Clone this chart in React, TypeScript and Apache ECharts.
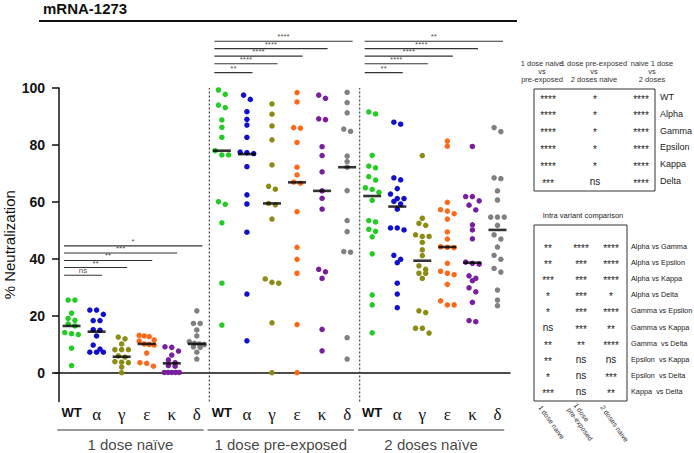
import React, { useEffect, useRef } from "react";
import * as echarts from "echarts";

// ---------- data ----------
const variants = ["WT", "α", "γ", "ε", "κ", "δ"];
const groupNames = ["1 dose naïve", "1 dose pre-exposed", "2 doses naïve"];
const variantColors = ["#22cc22", "#1010cc", "#8c8c14", "#ff6a1a", "#7a1ea0", "#808080"];

// 1 dose naive
const naiveWT = [25.6, 25.6, 21.0, 19.2, 18.5, 17.2, 16.5, 14.2, 13.8, 13.5, 8.7, 2.6];
const naiveAlpha = [22.1, 22.1, 20.6, 18.4, 18.4, 15.2, 15.0, 13.0, 9.8, 8.4, 7.3, 7.3, 7.3];
const naiveGamma = [12.6, 12.0, 10.2, 8.2, 8.2, 8.2, 6.0, 5.6, 4.0, 3.8, 3.6, 2.1, 0.1];
const naiveEpsilon = [13.2, 13.0, 12.8, 11.6, 11.2, 10.2, 10.0, 9.8, 7.0, 3.6, 3.4, 2.4];
const naiveKappa = [9.2, 9.0, 7.7, 6.3, 4.6, 3.6, 2.6, 2.4, 0.2, 0.2, 0.2, 0.2, 0.2];
const naiveDelta = [21.8, 17.4, 17.4, 15.1, 13.0, 11.0, 10.4, 10.2, 10.0, 9.2, 9.0, 7.3, 4.9];
const naiveMedians = [16.5, 14.5, 5.7, 10.2, 3.4, 10.2];

// 1 dose pre-exposed
const preWT = [99.3, 97.8, 94.0, 93.1, 88.8, 86.2, 82.7, 78.0, 76.5, 76.5, 60.1, 59.2, 52.7, 31.5, 16.8];
const preAlpha = [97.5, 96.0, 91.7, 89.0, 87.0, 82.7, 77.5, 77.3, 77.0, 72.4, 62.5, 59.3, 49.4, 27.7, 11.3];
const preGamma = [94.4, 90.8, 86.7, 81.8, 73.0, 65.5, 64.5, 59.5, 59.0, 54.0, 33.0, 31.8, 31.5, 17.6, 0.1];
const preEpsilon = [98.4, 95.1, 86.1, 85.9, 80.9, 72.2, 69.5, 67.0, 66.6, 56.6, 44.1, 39.9, 35.0, 17.0, 0.1];
const preKappa = [97.5, 96.4, 89.2, 88.9, 79.4, 76.3, 70.6, 63.9, 61.3, 57.5, 36.4, 35.5, 33.2, 15.3, 7.8];
const preDelta = [98.5, 94.9, 91.3, 85.6, 84.8, 76.1, 74.2, 72.2, 64.0, 53.5, 49.6, 42.6, 42.4, 12.4, 4.9];
const preMedians = [78.0, 76.8, 59.5, 66.9, 63.9, 72.2];

// 2 doses naive
const twoWT = [91.6, 90.9, 76.4, 72.6, 72.0, 68.9, 67.7, 65.0, 64.4, 63.4, 60.6, 53.5, 53.0, 50.4, 49.7, 47.8, 41.8, 27.4, 23.9, 14.1];
const twoAlpha = [88.0, 87.3, 68.5, 67.8, 64.7, 62.8, 61.2, 61.2, 60.2, 59.3, 57.5, 50.9, 50.9, 50.2, 41.3, 39.9, 38.7, 31.5, 27.7, 22.9];
const twoGamma = [76.3, 54.3, 52.5, 51.8, 48.5, 47.9, 47.9, 45.8, 43.2, 41.2, 37.6, 36.4, 35.0, 35.0, 33.2, 21.8, 21.2, 15.7, 15.7, 14.0];
const twoEpsilon = [81.4, 79.6, 59.9, 57.3, 56.8, 55.9, 54.0, 49.5, 47.0, 44.3, 44.1, 44.0, 38.5, 35.7, 35.0, 34.5, 31.1, 25.3, 23.9, 23.9];
const twoKappa = [79.5, 61.9, 61.9, 60.4, 58.9, 57.2, 52.0, 50.2, 47.1, 38.9, 38.5, 38.2, 34.1, 33.2, 32.4, 29.9, 28.5, 24.8, 18.4, 18.0];
const twoDelta = [86.1, 84.7, 68.5, 68.2, 63.9, 60.7, 54.7, 54.7, 54.7, 51.8, 48.5, 47.0, 44.2, 41.3, 39.9, 36.7, 35.4, 29.1, 25.6, 23.6];
const twoMedians = [62.1, 58.4, 39.4, 44.2, 38.7, 50.2];

const groupData = [
  [naiveWT, naiveAlpha, naiveGamma, naiveEpsilon, naiveKappa, naiveDelta],
  [preWT, preAlpha, preGamma, preEpsilon, preKappa, preDelta],
  [twoWT, twoAlpha, twoGamma, twoEpsilon, twoKappa, twoDelta],
];
const groupMedians = [naiveMedians, preMedians, twoMedians];

// significance brackets (WT vs each variant)
const sigNaive = ["ns", "**", "**", "***", "*"];
const sigPre = ["**", "****", "****", "****", "****"];
const sigTwo = ["**", "****", "****", "****", "**"];
const sigHeightsNaive = [34.3, 37.0, 39.5, 42.1, 44.6];
const sigHeightsHigh = [105.4, 108.5, 111.2, 113.8, 116.4];

const yTicks = [0, 20, 40, 60, 80, 100];

// tables
const table1Headers = ["1 dose naive\nvs\npre-exposed", "1 dose pre-exposed\nvs\n2 doses naive", "naive 1 dose\nvs\n2 doses"];
const table1Rows = ["WT", "Alpha", "Gamma", "Epsilon", "Kappa", "Delta"];
const table1Col1 = ["****", "****", "****", "****", "****", "***"];
const table1Col2 = ["*", "*", "*", "*", "*", "ns"];
const table1Col3 = ["****", "****", "****", "****", "****", "****"];

const table2Title = "Intra variant comparison";
const table2Rows = [
  "Alpha vs Gamma", "Alpha vs Epsilon", "Alpha vs Kappa", "Alpha vs Delta", "Gamma vs Epsilon",
  "Gamma vs Kappa", "Gamma  vs Delta", "Epsilon  vs Kappa", "Epsilon  vs Delta", "Kappa  vs Delta",
];
const table2Col1 = ["**", "**", "***", "*", "*", "ns", "**", "**", "*", "***"];
const table2Col2 = ["****", "***", "***", "***", "***", "***", "**", "ns", "ns", "ns"];
const table2Col3 = ["****", "****", "****", "*", "****", "**", "****", "ns", "***", "**"];
const table2Footers = ["1 dose naive", "1 dose\npre-exposed", "2 doses naive"];

// ---------- helpers ----------
function swarm(vals: number[], center: number) {
  const sorted = [...vals].sort((a, b) => b - a);
  const out: number[][] = [];
  let i = 0;
  while (i < sorted.length) {
    let j = i;
    while (j + 1 < sorted.length && sorted[i] - sorted[j + 1] < 1.7) j++;
    const n = j - i + 1;
    const step = n > 3 ? 0.6 / (n - 1) : 0.27;
    for (let k = 0; k < n; k++) out.push([center + (k - (n - 1) / 2) * step, sorted[i + k]]);
    i = j + 1;
  }
  return out;
}

const FONT = "Liberation Sans, Arial, sans-serif";

export default function App() {
  const ref = useRef<HTMLDivElement>(null);
  useEffect(() => {
    const chart = echarts.init(ref.current!, null, { renderer: "svg" });
    const series: any[] = [];

    // dots + medians
    groupData.forEach((grp, g) => {
      grp.forEach((vals, v) => {
        const center = g * 6 + v + 0.5;
        series.push({
          type: "scatter",
          data: swarm(vals, center),
          symbolSize: 5.5,
          itemStyle: { color: variantColors[v], opacity: 1 },
          silent: true,
          z: 3,
        });
      });
      series.push({
        type: "scatter",
        data: groupMedians[g].map((m, v) => [g * 6 + v + 0.5, m]),
        symbol: "rect",
        symbolSize: [18, 2.6],
        itemStyle: { color: "#000" },
        silent: true,
        z: 4,
      });
    });

    // dotted separators
    [6, 12].forEach((x) => {
      series.push({
        type: "line",
        data: [[x, -10], [x, 100]],
        symbol: "none",
        lineStyle: { color: "#444", width: 1.2, type: [2, 2] },
        silent: true,
        z: 1,
      });
    });

    // significance brackets
    const sigs = [sigNaive, sigPre, sigTwo];
    sigs.forEach((labels, g) => {
      const heights = g === 0 ? sigHeightsNaive : sigHeightsHigh;
      labels.forEach((lab, k) => {
        const x1 = g * 6 + 0.5 - 0.3;
        const x2 = g * 6 + k + 1 + 0.5 + 0.22;
        const h = heights[k];
        series.push({
          type: "line",
          data: [[x1, h], [x2, h]],
          symbol: "none",
          clip: false,
          lineStyle: { color: "#333", width: 1.1 },
          silent: true,
        });
        series.push({
          type: "scatter",
          data: [[(x1 + x2) / 2, h, lab]],
          symbolSize: 1,
          clip: false,
          itemStyle: { color: "rgba(0,0,0,0)" },
          label: {
            show: true,
            position: "top",
            distance: 0,
            formatter: (p: any) => p.data[2],
            fontSize: 8,
            fontFamily: FONT,
            color: "#222",
          },
          silent: true,
        });
      });
    });

    // group underlines + names
    groupNames.forEach((name, g) => {
      const c = g * 6 + 2.85;
      series.push({
        type: "line",
        data: [[c - 2.92, -20], [c + 2.92, -20]],
        symbol: "none",
        clip: false,
        lineStyle: { color: "#333", width: 1 },
        silent: true,
      });
      series.push({
        type: "scatter",
        data: [[c, -25, name]],
        symbolSize: 1,
        clip: false,
        itemStyle: { color: "rgba(0,0,0,0)" },
        label: {
          show: true,
          position: "inside",
          formatter: (p: any) => p.data[2],
          fontSize: 15,
          fontFamily: FONT,
          color: "#111",
        },
        silent: true,
      });
    });

    // title + tables via graphic
    const graphic: any[] = [];
    graphic.push({
      type: "text",
      left: 43,
      top: 1,
      style: { text: "mRNA-1273", fontSize: 15, fontWeight: "bold", fontFamily: FONT, fill: "#111" },
    });
    graphic.push({
      type: "line",
      shape: { x1: 39, y1: 21, x2: 517, y2: 21 },
      style: { stroke: "#111", lineWidth: 2 },
    });
    const t1x = [542, 594, 652];
    table1Headers.forEach((h, i) => {
      graphic.push({
        type: "text",
        x: t1x[i],
        y: 60,
        style: { text: h, fontSize: 7.5, lineHeight: 7.8, fontFamily: FONT, fill: "#333", align: "center", verticalAlign: "top" },
      });
    });
    graphic.push({
      type: "rect",
      shape: { x: 534, y: 89, width: 121, height: 102 },
      style: { fill: "none", stroke: "#333", lineWidth: 1 },
    });
    const t1cx = [548, 595, 641];
    const t1cols = [table1Col1, table1Col2, table1Col3];
    table1Rows.forEach((r, i) => {
      const y = 97 + i * 16.8;
      t1cols.forEach((col, c) => {
        const isNs = col[i] === "ns";
        graphic.push({
          type: "text",
          x: t1cx[c],
          y: isNs ? y : y + 2,
          style: { text: col[i], fontSize: 10, fontFamily: FONT, fill: "#222", align: "center", verticalAlign: "middle" },
        });
      });
      graphic.push({
        type: "text",
        x: 660,
        y,
        style: { text: r, fontSize: 9, fontFamily: FONT, fill: "#222", align: "left", verticalAlign: "middle" },
      });
    });

    graphic.push({
      type: "text",
      x: 583,
      y: 215,
      style: { text: table2Title, fontSize: 7.5, fontFamily: FONT, fill: "#222", align: "center", verticalAlign: "middle" },
    });
    graphic.push({
      type: "rect",
      shape: { x: 534, y: 225, width: 93, height: 176 },
      style: { fill: "none", stroke: "#333", lineWidth: 1 },
    });
    const t2cx = [548, 581, 611];
    const t2cols = [table2Col1, table2Col2, table2Col3];
    table2Rows.forEach((r, i) => {
      const y = 246 + i * 16.2;
      t2cols.forEach((col, c) => {
        const isNs = col[i] === "ns";
        graphic.push({
          type: "text",
          x: t2cx[c],
          y: isNs ? y : y + 2,
          style: { text: col[i], fontSize: 10, fontFamily: FONT, fill: "#222", align: "center", verticalAlign: "middle" },
        });
      });
      graphic.push({
        type: "text",
        x: 631,
        y,
        style: { text: r, fontSize: 7.3, fontFamily: FONT, fill: "#222", align: "left", verticalAlign: "middle" },
      });
    });
    const footX = [540, 572, 602];
    table2Footers.forEach((f, i) => {
      graphic.push({
        type: "text",
        x: footX[i],
        y: 406,
        rotation: -0.95,
        style: { text: f, fontSize: 7, lineHeight: 8, fontFamily: FONT, fill: "#333", align: "left", verticalAlign: "middle" },
      });
    });

    chart.setOption({
      animation: false,
      grid: { left: 55, top: 88, width: 455, height: 313.5, containLabel: false, outerBoundsMode: "none" },
      xAxis: {
        type: "value",
        min: -0.16,
        max: 18,
        splitLine: { show: false },
        axisTick: { show: false },
        axisLine: { show: true, lineStyle: { color: "#111", width: 1.5 } },
        axisLabel: {
          customValues: Array.from({ length: 18 }, (_, i) => i + 0.5),
          margin: 4,
          formatter: (val: number) => {
            const i = Math.round(val - 0.5) % 6;
            return i === 0 ? "{b|WT}" : "{g|" + variants[i] + "}";
          },
          rich: {
            b: { fontSize: 13, fontWeight: "bold", fontFamily: FONT, color: "#111" },
            g: { fontSize: 17, fontFamily: "Liberation Serif, DejaVu Serif, serif", color: "#111" },
          },
        },
      },
      yAxis: {
        type: "value",
        min: -10,
        max: 100,
        name: "% Neutralization",
        nameLocation: "middle",
        nameGap: 38,
        nameMoveOverlap: false,
        nameTextStyle: { fontSize: 15, fontFamily: FONT, color: "#111" },
        splitLine: { show: false },
        axisLine: { show: true, lineStyle: { color: "#111", width: 1.5 } },
        axisTick: { show: true, length: 7, customValues: yTicks, lineStyle: { color: "#111", width: 1.5 } },
        axisLabel: {
          customValues: yTicks,
          margin: 10,
          fontSize: 14,
          fontWeight: "bold",
          fontFamily: FONT,
          color: "#111",
        },
      },
      series,
      graphic,
    });
    return () => chart.dispose();
  }, []);
  return <div ref={ref} style={{ position: "fixed", left: 0, top: 0, width: 694, height: 453, background: "#fff" }} />;
}
